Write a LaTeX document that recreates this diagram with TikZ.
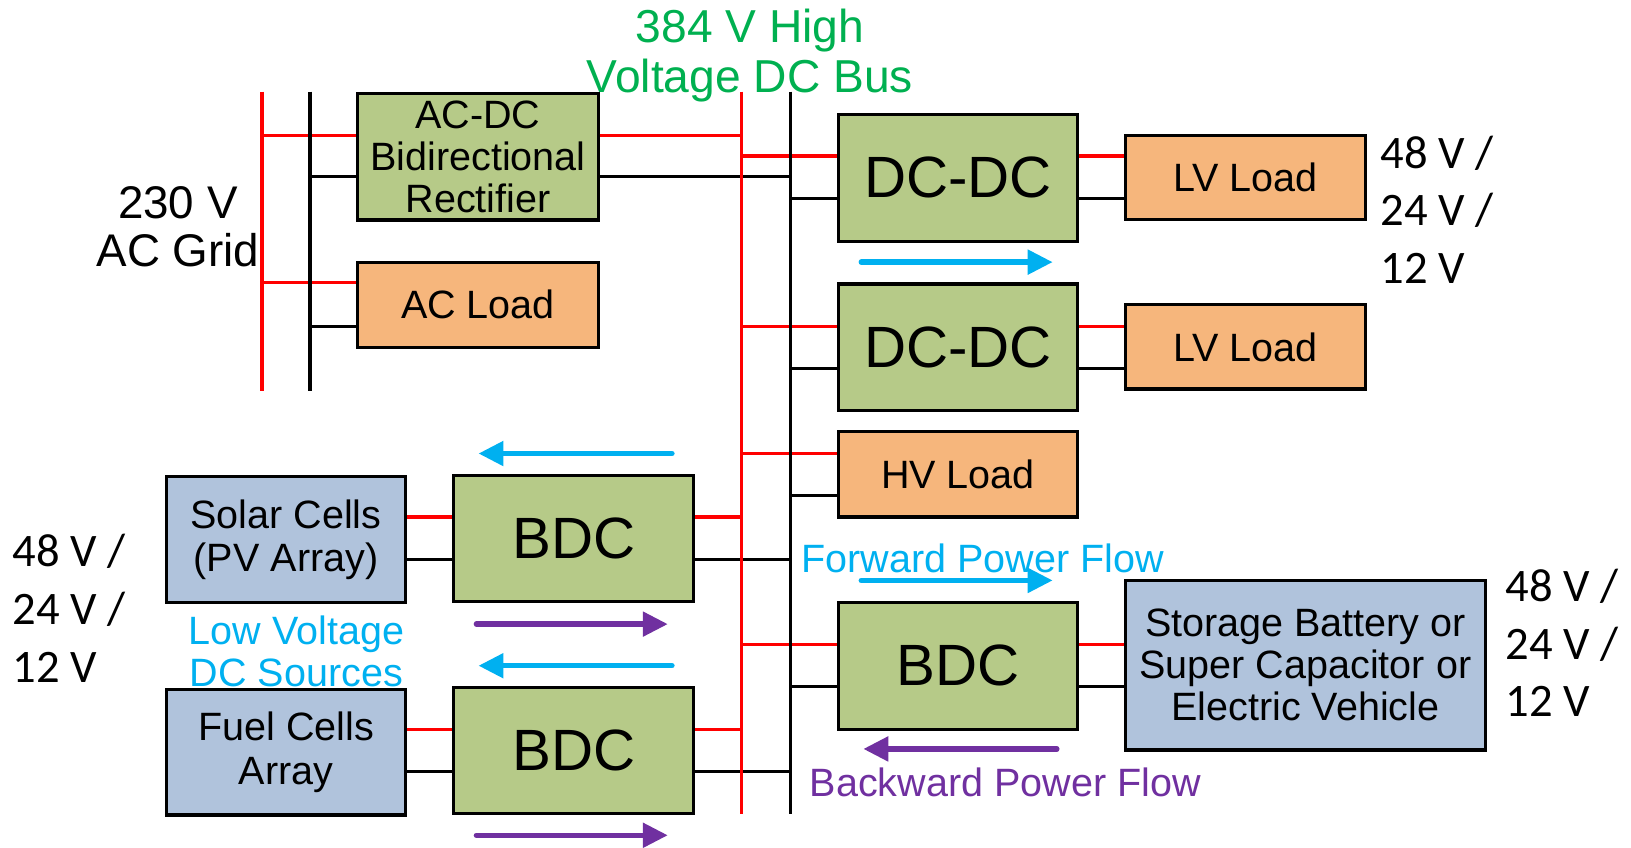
\documentclass[tikz,border=0pt]{standalone}
\usepackage{fontspec}
\setmainfont{Liberation Sans}
\newfontfamily\calib{Carlito}
\usetikzlibrary{arrows.meta}
\definecolor{gfill}{RGB}{182,202,136}
\definecolor{ofill}{RGB}{246,182,124}
\definecolor{bfill}{RGB}{176,195,220}
\definecolor{gtext}{RGB}{0,176,80}
\definecolor{btext}{RGB}{0,176,240}
\definecolor{ptext}{RGB}{112,48,160}
\tikzset{
  busr/.style={draw=red, line width=1.7pt},
  busb/.style={draw=black, line width=1.7pt},
  rl/.style={draw=red, line width=1.5pt},
  bl/.style={draw=black, line width=1.5pt},
  box/.style={draw=black, line width=1.5pt, inner sep=0pt, align=center,
    minimum width=115pt, minimum height=61pt, font=\fontsize{19}{20.25}\selectfont},
  gbox/.style={box, fill=gfill},
  obox/.style={box, fill=ofill, minimum height=40.5pt},
  bbox/.style={box, fill=bfill},
  bigtxt/.style={font=\fontsize{28}{30}\selectfont},
  flow/.style={line width=2.6pt, line cap=round, -{Triangle[length=12pt,width=11.5pt]}},
  volt/.style={inner sep=0pt, align=left, anchor=west, font=\calib\fontsize{22.4}{27.75}\selectfont},
  lbl/.style={inner sep=0pt, font=\fontsize{19}{20.25}\selectfont}
}
\begin{document}
\begin{tikzpicture}[x=0.5pt,y=-0.5pt]
\useasboundingbox (0,0) rectangle (1568,815);

% bus coordinates
\coordinate (acR) at (252,88);  \coordinate (acRb) at (252,376);
\coordinate (acB) at (298,88);  \coordinate (acBb) at (298,376);
\coordinate (hvR) at (713,88);  \coordinate (hvRb) at (713,783);
\coordinate (hvB) at (760,88);  \coordinate (hvBb) at (760,783);

% boxes
\node[gbox, minimum width=115.5pt] (acdc) at (459.5,150.5) {AC-DC\\Bidirectional\\Rectifier};
\node[obox, minimum width=115.5pt, minimum height=41pt] (acload) at (459.5,293) {AC Load};
\node[gbox, bigtxt] (dc1) at (921,171) {DC-DC};
\node[obox, minimum width=115.5pt] (lv1) at (1197.5,170.5) {LV Load};
\node[gbox, bigtxt] (dc2) at (921,334) {DC-DC};
\node[obox, minimum width=115.5pt] (lv2) at (1197.5,333.5) {LV Load};
\node[obox, minimum height=41pt] (hv) at (921,456) {HV Load};
\node[gbox, bigtxt] (bdcR) at (921,640) {BDC};
\node[bbox, minimum width=173pt, minimum height=81.5pt] (stor) at (1255,639.5) {Storage Battery or\\Super Capacitor or\\Electric Vehicle};
\node[bbox, minimum height=60.5pt, font=\fontsize{19}{21}\selectfont] (solar) at (275,519) {Solar Cells\\(PV Array)};
\node[gbox, bigtxt, minimum width=115.5pt, minimum height=60.5pt] (bdc1) at (551.5,517.5) {BDC};
\node[bbox, minimum height=60.5pt, font=\fontsize{19}{21}\selectfont] (fuel) at (275,723) {Fuel Cells\\Array};
\node[gbox, bigtxt, minimum width=115.5pt, minimum height=60.5pt] (bdc2) at (551.5,721.5) {BDC};

% connections (drawn before buses)
\draw[bl] (acB |- 0,170) -- (acdc.west |- 0,170);
\draw[bl] (acB |- 0,314) -- (acload.west |- 0,314);
\draw[bl] (acdc.east |- 0,170) -- (hvB |- 0,170);
\draw[bl] (hvB |- 0,191) -- (dc1.west |- 0,191);
\draw[bl] (dc1.east |- 0,191) -- (lv1.west |- 0,191);
\draw[bl] (hvB |- 0,354) -- (dc2.west |- 0,354);
\draw[bl] (dc2.east |- 0,354) -- (lv2.west |- 0,354);
\draw[bl] (hvB |- 0,476) -- (hv.west |- 0,476);
\draw[bl] (hvB |- 0,660) -- (bdcR.west |- 0,660);
\draw[bl] (bdcR.east |- 0,660) -- (stor.west |- 0,660);
\draw[bl] (solar.east |- 0,538) -- (bdc1.west |- 0,538);
\draw[bl] (bdc1.east |- 0,538) -- (hvB |- 0,538);
\draw[bl] (fuel.east |- 0,742) -- (bdc2.west |- 0,742);
\draw[bl] (bdc2.east |- 0,742) -- (hvB |- 0,742);

\draw[rl] (acR |- 0,130) -- (acdc.west |- 0,130);
\draw[rl] (acR |- 0,272) -- (acload.west |- 0,272);
\draw[rl] (acdc.east |- 0,130) -- (hvR |- 0,130);
\draw[rl] (hvR |- 0,150) -- (dc1.west |- 0,150);
\draw[rl] (dc1.east |- 0,150) -- (lv1.west |- 0,150);
\draw[rl] (hvR |- 0,314) -- (dc2.west |- 0,314);
\draw[rl] (dc2.east |- 0,314) -- (lv2.west |- 0,314);
\draw[rl] (hvR |- 0,436) -- (hv.west |- 0,436);
\draw[rl] (hvR |- 0,620) -- (bdcR.west |- 0,620);
\draw[rl] (bdcR.east |- 0,620) -- (stor.west |- 0,620);
\draw[rl] (solar.east |- 0,497) -- (bdc1.west |- 0,497);
\draw[rl] (bdc1.east |- 0,497) -- (hvR |- 0,497);
\draw[rl] (fuel.east |- 0,701) -- (bdc2.west |- 0,701);
\draw[rl] (bdc2.east |- 0,701) -- (hvR |- 0,701);

% buses
\draw[busr] (acR) -- (acRb);
\draw[busb] (acB) -- (acBb);
\draw[busr] (hvR) -- (hvRb);
\draw[busb] (hvB) -- (hvBb);

% flow arrows
\draw[flow, btext] (828,252) -- (1012,252);
\draw[flow, btext] (828,558) -- (1012,558);
\draw[flow, ptext] (1016,720) -- (830,720);
\draw[flow, btext] (646,436) -- (460,436);
\draw[flow, ptext] (458,600) -- (642,600);
\draw[flow, btext] (646,640) -- (460,640);
\draw[flow, ptext] (458,803) -- (642,803);

% labels
\node[inner sep=0pt, align=center, text=gtext, font=\fontsize{22.2}{24}\selectfont] (hvbus) at (721,53) {384 V High\\Voltage DC Bus};
\node[inner sep=0pt, align=center, font=\fontsize{22}{23.5}\selectfont] (grid) at (171,218) {230 V\\AC Grid};
\node[lbl, anchor=west, text=btext] (fwd) at (770,537) {Forward Power Flow};
\node[lbl, anchor=west, text=ptext] (bwd) at (778,752) {Backward Power Flow};
\node[lbl, align=center, text=btext] (lvs) at (285,626) {Low Voltage\\DC Sources};
\node[volt] (v1) at (1327,201.5) {48 V /\\24 V /\\12 V};
\node[volt] (v2) at (12,585) {48 V /\\24 V /\\12 V};
\node[volt] (v3) at (1447,618) {48 V /\\24 V /\\12 V};
\end{tikzpicture}
\end{document}
